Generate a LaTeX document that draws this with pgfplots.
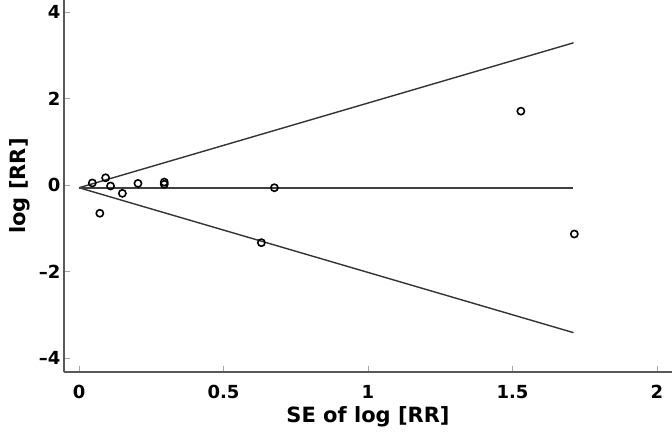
\documentclass[border=0pt]{standalone}
\usepackage{fontspec}
\setmainfont{DejaVu Sans}
\usepackage{pgfplots}
\pgfplotsset{compat=1.18}

\begin{document}
\begin{tikzpicture}
\begin{axis}[
  scale only axis, width=608pt, height=372pt,
  xmin=-0.052, xmax=2.052, ymin=-4.32, ymax=4.28,
  axis lines*=left,
  axis line style={black!65, line width=2.2pt},
  xtick={0,0.5,1,1.5,2}, xticklabels={0,0.5,1,1.5,2},
  ytick={-4,-2,0,2,4}, yticklabels={\textendash4,\textendash2,0,2,4},
  tick align=inside, major tick length=6pt,
  tick style={black!35, line width=0.8pt},
  ticklabel style={font=\fontsize{18}{22}\selectfont\bfseries},
  xticklabel style={anchor=base, yshift=-26pt},
  label style={font=\fontsize{21}{25}\selectfont\bfseries},
  xlabel={SE of log [RR]}, ylabel={log [RR]},
  xlabel style={at={(axis description cs:0.5,0)}, anchor=base, yshift=-50pt},
  ylabel style={at={(axis description cs:0,0.5)}, anchor=base, yshift=38pt},
]
% funnel
\addplot[black!80, line width=1.4pt] coordinates {(0,-0.06) (1.711,3.29)};
\addplot[black!80, line width=1.4pt] coordinates {(0,-0.06) (1.711,-3.41)};
\addplot[black!75, line width=1.6pt] coordinates {(0,-0.06) (1.711,-0.06)};
% studies
\addplot[only marks, mark=o, mark size=3.6pt, line width=1.6pt, black] coordinates {
  (0.046,0.05) (0.092,0.17) (0.109,-0.02) (0.072,-0.65) (0.150,-0.19)
  (0.204,0.04) (0.295,0.07) (0.295,0.02) (0.676,-0.06) (0.631,-1.33)
  (1.529,1.71) (1.714,-1.13)
};
\coordinate (bl) at (rel axis cs:0,0);
\coordinate (tr) at (rel axis cs:1,1);
\end{axis}
\pgfresetboundingbox
\useasboundingbox ([xshift=-64pt,yshift=-62pt]bl) rectangle (tr);
\end{tikzpicture}
\end{document}
